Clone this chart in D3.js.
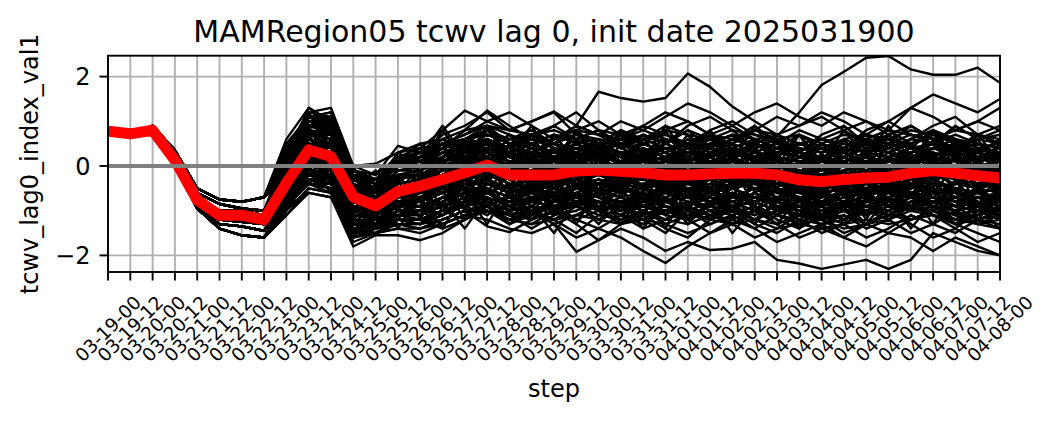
<!DOCTYPE html>
<html><head><meta charset="utf-8">
<script src="https://cdn.jsdelivr.net/npm/d3@7"></script>
<style>
html,body{margin:0;padding:0;background:#fff;}
svg{display:block;font-family:"DejaVu Sans",sans-serif;}
</style></head>
<body>
<svg id="chart" width="1057" height="421"></svg>
<script>
const title = "MAMRegion05 tcwv lag 0, init date 2025031900";
const xLabel = "step";
const yLabel = "tcwv_lag0_index_val1";
const stepLabels = ["03-19-00","03-19-12","03-20-00","03-20-12","03-21-00","03-21-12","03-22-00","03-22-12",
 "03-23-00","03-23-12","03-24-00","03-24-12","03-25-00","03-25-12","03-26-00","03-26-12","03-27-00","03-27-12",
 "03-28-00","03-28-12","03-29-00","03-29-12","03-30-00","03-30-12","03-31-00","03-31-12","04-01-00","04-01-12",
 "04-02-00","04-02-12","04-03-00","04-03-12","04-04-00","04-04-12","04-05-00","04-05-12","04-06-00","04-06-12",
 "04-07-00","04-07-12","04-08-00"];
const yTicks = [-2, 0, 2];
const yTickLabels = ["\u22122", "0", "2"];

const ensembleMean = [0.78,0.72,0.80,0.13,-0.76,-1.10,-1.10,-1.20,
 -0.38,0.36,0.21,-0.69,-0.89,-0.57,
 -0.45,-0.30,-0.15,0.02,-0.20,-0.20,-0.20,-0.11,-0.09,
 -0.12,-0.15,-0.20,-0.20,-0.18,-0.16,-0.16,-0.20,-0.31,
 -0.35,-0.30,-0.27,-0.25,-0.16,-0.10,-0.16,-0.22,-0.27];

// spread-out members
const membersWide = [
[0.78,0.72,0.82,0.2,-0.7,-1.0,-1.0,-1.1, -0.2,0.6,0.5,-0.5,-0.8,-0.4,
 -0.3,0.1,0.3,0.5,0.2,0.4,0.1,0.3,0.6, 0.2,-0.1,0.1,0.4,0.2,0.0,-0.3,-0.1,0.2, 0.5,0.3,0.0,-0.2,0.1,0.4,0.6,0.3,0.1],
[0.77,0.68,0.75,0.1,-0.85,-1.2,-1.25,-1.3, -0.6,0.1,-0.2,-1.0,-1.2,-0.9,
 -0.9,-0.8,-0.5,-0.6,-0.9,-0.7,-1.0,-0.6,-0.8, -1.1,-0.7,-0.9,-1.2,-0.8,-0.6,-0.9,-1.1,-1.3, -1.0,-0.8,-1.1,-0.9,-0.6,-0.8,-1.0,-0.7,-0.9],
[0.79,0.71,0.85,0.3,-0.6,-0.85,-0.95,-1.0, 0.2,1.0,0.9,-0.3,-0.5,0.1,
 -0.1,0.2,0.6,0.9,0.5,0.3,0.6,0.8,0.4, 0.1,0.5,0.3,-0.1,0.2,0.6,0.4,0.0,-0.2, 0.1,0.4,0.7,0.5,0.9,0.6,0.3,0.5,0.2],
[0.78,0.69,0.78,0.05,-0.9,-1.3,-1.35,-1.45, -0.9,-0.3,-0.5,-1.4,-1.3,-1.2,
 -1.3,-1.1,-0.8,-0.5,-0.9,-1.2,-0.8,-0.5,-0.3, -0.6,-0.9,-0.5,-0.2,-0.6,-0.9,-1.2,-0.8,-0.5, -0.9,-1.2,-0.8,-0.6,-0.9,-0.5,-0.8,-1.1,-0.7],
[0.78,0.7,0.9,0.35,-0.5,-0.75,-0.8,-0.7, 0.6,1.3,1.0,0.0,-0.2,0.45,
 0.3,0.7,0.9,1.2,0.8,1.0,1.2,0.7,0.5, 0.8,0.6,0.9,0.7,0.3,0.6,0.9,0.5,0.3, 0.6,0.4,0.8,1.0,0.7,0.5,0.9,0.6,0.8],
[0.77,0.66,0.72,0.0,-0.95,-1.4,-1.55,-1.6, -1.1,-0.6,-0.7,-1.8,-1.55,-1.55,
 -1.66,-1.5,-1.2,-0.9,-1.3,-1.0,-1.2,-1.5,-1.1, -0.8,-1.2,-1.5,-1.0,-1.3,-1.1,-0.9,-1.2,-1.4, -1.1,-1.3,-1.0,-1.2,-0.9,-1.1,-1.4,-1.0,-1.2],
[0.79,0.73,0.8,0.15,-0.75,-1.1,-1.05,-1.15, -0.4,0.4,0.2,-0.7,-0.9,-0.5,
 -0.5,-0.2,0.0,0.2,-0.1,-0.3,0.0,0.2,-0.1, -0.3,0.0,-0.2,0.1,-0.1,-0.4,-0.2,0.1,0.0, -0.2,-0.5,-0.3,0.0,0.2,0.0,-0.2,0.1,-0.1],
[0.78,0.7,0.76,0.12,-0.8,-1.15,-1.2,-1.25, -0.5,0.2,0.0,-0.9,-1.0,-0.7,
 -0.6,-0.4,-0.3,-0.1,-0.4,-0.5,-0.3,0.0,-0.2, -0.4,-0.2,-0.5,-0.3,-0.6,-0.4,-0.1,-0.4,-0.6, -0.5,-0.3,-0.6,-0.4,-0.2,0.0,-0.3,-0.5,-0.4],
[0.78,0.72,0.82,0.2,-0.7,-1.0,-1.0,-1.1, -0.3,0.5,0.4,-0.4,-0.7,-0.3,
 -0.2,-0.5,0.1,-0.2,0.3,0.0,-0.4,0.0,0.3, 0.5,0.2,-0.1,-0.4,0.0,0.3,0.1,-0.2,-0.5, -0.2,0.1,0.3,-0.1,-0.4,-0.2,0.2,0.0,-0.3],
[0.77,0.68,0.75,0.1,-0.85,-1.2,-1.25,-1.3, -0.6,0.0,-0.1,-1.1,-1.1,-0.8,
 -0.8,-0.6,-0.9,-0.4,-0.6,-0.9,-0.5,-0.7,-0.4, -0.2,-0.5,-0.8,-0.6,-0.3,-0.7,-0.5,-0.8,-1.0, -0.7,-0.4,-0.6,-0.9,-0.5,-0.3,-0.6,-0.9,-1.1],
[0.79,0.71,0.85,0.3,-0.6,-0.85,-0.95,-1.0, 0.0,0.8,0.7,-0.2,-0.6,0.2,
 0.1,0.5,0.3,0.6,0.2,0.7,0.4,0.1,0.3, 0.6,0.3,0.5,0.8,0.4,0.2,0.5,0.7,0.3, 0.0,0.3,0.1,0.4,0.6,0.8,0.5,0.2,0.4],
[0.78,0.69,0.78,0.05,-0.9,-1.3,-1.35,-1.45, -0.8,-0.2,-0.4,-1.3,-1.4,-1.0,
 -1.1,-0.7,-0.5,-0.8,-1.1,-0.9,-0.6,-0.4,-0.7, -1.0,-0.7,-1.1,-0.8,-1.0,-1.3,-1.0,-0.7,-0.9, -1.2,-0.9,-0.6,-0.9,-1.2,-1.0,-0.7,-0.5,-0.8],
[0.78,0.7,0.9,0.35,-0.5,-0.75,-0.8,-0.7, 0.4,1.2,1.3,0.0,0.05,0.3,
 0.0,0.4,0.8,1.24,0.9,0.6,0.9,1.2,0.8, 0.4,0.7,0.5,0.9,1.1,0.8,0.4,0.6,0.3, 0.7,0.9,0.5,0.3,0.6,0.9,1.1,0.7,0.5],
[0.77,0.66,0.72,0.0,-0.95,-1.4,-1.55,-1.6, -1.0,-0.5,-0.6,-1.6,-1.4,-1.3,
 -1.4,-1.2,-1.0,-1.35,-1.48,-1.2,-1.0,-1.3,-1.66, -1.3,-1.1,-1.4,-1.6,-1.2,-1.0,-1.3,-1.5,-1.2, -1.5,-1.3,-1.6,-1.4,-1.1,-1.3,-1.5,-1.2,-1.4],
[0.79,0.73,0.8,0.15,-0.75,-1.1,-1.05,-1.15, -0.3,0.5,0.3,-0.6,-0.8,-0.5,
 -0.4,-0.1,0.2,0.4,0.1,-0.2,0.1,0.4,0.2, -0.1,0.2,0.4,0.1,-0.2,0.0,0.3,0.1,-0.2, -0.4,-0.1,0.1,-0.2,0.0,0.3,0.1,-0.2,0.0],
[0.78,0.7,0.76,0.12,-0.8,-1.15,-1.2,-1.25, -0.4,0.3,0.1,-0.8,-1.0,-0.6,
 -0.7,-0.5,-0.2,0.1,-0.3,-0.6,-0.4,-0.1,0.1, -0.2,-0.5,-0.3,-0.6,-0.4,-0.1,-0.3,-0.6,-0.4, -0.7,-0.4,-0.2,-0.5,-0.3,-0.6,-0.4,-0.1,-0.3],
[0.78,0.72,0.82,0.2,-0.7,-1.0,-1.0,-1.1, -0.2,0.7,0.6,-0.4,-0.7,-0.2,
 -0.2,0.0,-0.3,0.2,0.0,0.3,0.1,-0.2,0.0, 0.3,0.0,-0.2,0.1,0.4,0.2,-0.1,0.1,-0.2, 0.0,0.2,-0.1,0.1,0.3,0.5,0.2,-0.1,0.0],
[0.77,0.68,0.75,0.1,-0.85,-1.2,-1.25,-1.3, -0.7,-0.1,-0.3,-1.2,-1.3,-1.0,
 -1.0,-0.8,-0.6,-0.9,-0.7,-1.0,-1.2,-0.9,-0.6, -0.9,-1.2,-0.8,-0.5,-0.8,-1.0,-0.7,-0.9,-1.2, -0.9,-0.6,-0.9,-1.1,-0.8,-0.6,-0.9,-1.2,-1.0],
[0.79,0.71,0.85,0.3,-0.6,-0.85,-0.95,-1.0, 0.1,0.9,0.8,-0.3,-0.4,0.0,
 0.0,0.3,0.5,0.2,0.6,0.8,0.5,0.2,0.5, 0.8,0.5,0.3,0.6,0.3,0.5,0.8,0.6,0.2, 0.5,0.3,0.6,0.8,0.5,0.2,0.4,0.7,0.9],
[0.78,0.69,0.78,0.05,-0.9,-1.3,-1.35,-1.45, -0.7,-0.3,-0.4,-1.3,-1.2,-1.1,
 -1.0,-1.3,-1.1,-0.8,-1.1,-1.4,-1.1,-0.8,-1.0, -1.3,-1.0,-0.7,-1.0,-1.2,-0.9,-0.6,-0.9,-1.1, -0.8,-1.0,-1.3,-1.0,-0.7,-0.9,-1.2,-0.9,-0.6],
[0.78,0.7,0.9,0.35,-0.5,-0.75,-0.8,-0.7, 0.5,1.1,1.2,-0.1,-0.3,0.2,
 0.2,0.6,0.4,0.7,0.5,0.3,0.6,0.9,0.7, 0.4,0.2,0.5,0.8,0.6,0.3,0.1,0.4,0.7, 0.4,0.2,0.5,0.3,0.1,0.4,0.6,0.3,0.6],
[0.77,0.66,0.72,0.0,-0.95,-1.4,-1.55,-1.6, -1.1,-0.5,-0.6,-1.7,-1.5,-1.4,
 -1.5,-1.3,-1.1,-1.2,-1.4,-1.5,-1.3,-1.92,-1.66, -1.4,-1.6,-1.9,-1.7,-1.88,-1.85,-1.7,-2.1,-2.18, -2.3,-2.2,-2.1,-2.3,-2.1,-1.5,-1.7,-1.9,-2.0],
[0.79,0.73,0.8,0.15,-0.75,-1.1,-1.05,-1.15, -0.4,0.3,0.1,-0.7,-0.9,-0.6,
 -0.6,-0.3,-0.5,-0.2,0.0,-0.3,-0.1,-0.4,-0.2, 0.0,-0.3,-0.1,-0.4,-0.2,0.1,-0.1,-0.4,-0.3, -0.5,-0.2,0.0,-0.3,-0.5,-0.2,0.0,-0.3,-0.5],
[0.78,0.7,0.76,0.12,-0.8,-1.15,-1.2,-1.25, -0.5,0.2,0.1,-0.8,-0.9,-0.7,
 -0.5,-0.2,0.0,-0.3,-0.6,-0.4,-0.7,-0.5,-0.3, -0.5,-0.2,0.1,-0.2,-0.5,-0.3,0.0,-0.3,-0.6, -0.3,-0.6,-0.4,-0.1,-0.4,-0.7,-0.4,-0.2,-0.5],
[0.78,0.72,0.82,0.2,-0.7,-1.0,-1.0,-1.1, -0.1,0.7,0.6,-0.4,-0.6,-0.2,
 -0.3,0.2,0.5,0.6,0.4,0.7,0.5,0.9,1.66, 1.52,1.44,1.52,2.07,1.77,1.33,1.0,0.7,0.9, 1.1,0.8,0.5,0.7,0.9,0.6,0.4,0.7,0.5],
[0.77,0.68,0.75,0.1,-0.85,-1.2,-1.25,-1.3, -0.5,0.2,0.0,-0.9,-1.0,-0.7,
 -0.7,-0.4,-0.1,0.2,-0.1,0.3,0.5,0.2,0.4, 0.7,0.5,0.8,1.0,0.7,0.9,0.6,0.66,1.2, 1.81,2.11,2.42,2.46,2.16,2.04,2.04,2.2,1.86],
[0.79,0.71,0.85,0.3,-0.6,-0.85,-0.95,-1.0, 0.2,1.3,1.0,-0.1,-0.4,0.3,
 0.4,0.8,1.24,1.0,0.8,1.0,1.22,0.9,0.7, 1.0,0.8,1.1,1.4,1.2,0.9,1.2,1.4,1.1, 0.9,1.2,1.0,0.8,1.3,1.6,1.4,1.2,1.5],
[0.78,0.69,0.78,0.05,-0.9,-1.3,-1.35,-1.45, -0.8,-0.4,-0.5,-1.4,-1.3,-1.0,
 -1.1,-0.9,-0.6,-0.9,-1.2,-1.0,-1.3,-1.6,-1.4, -1.6,-1.9,-2.17,-1.8,-1.5,-1.2,-1.4,-1.1,-0.9, -1.2,-1.5,-1.3,-1.0,-1.3,-1.6,-1.4,-1.7,-1.5],
[0.78,0.7,0.9,0.35,-0.5,-0.75,-0.8,-0.7, 0.3,1.0,0.9,-0.2,-0.3,0.1,
 0.1,0.5,0.7,1.0,1.2,0.9,0.6,0.8,1.0, 0.7,0.9,1.2,1.0,0.7,0.5,0.8,1.1,0.9, 1.2,1.0,0.7,1.0,1.3,1.1,0.8,1.0,1.3],
[0.77,0.66,0.72,0.0,-0.95,-1.4,-1.55,-1.6, -0.9,-0.6,-0.7,-1.5,-1.3,-1.2,
 -1.2,-1.0,-1.2,-0.9,-0.7,-1.0,-1.3,-1.1,-0.8, -1.1,-1.3,-1.0,-1.2,-1.5,-1.3,-1.0,-1.3,-1.6, -1.4,-1.6,-1.3,-1.5,-1.2,-1.0,-1.3,-1.5,-1.7],
[0.79,0.73,0.8,0.15,-0.75,-1.1,-1.05,-1.15, -0.6,0.2,0.0,-0.8,-1.0,-0.8,
 -0.9,-0.7,-0.5,-0.8,-1.0,-0.8,-0.5,-0.7,-1.0, -1.2,-1.0,-1.3,-1.5,-1.3,-1.1,-1.4,-1.7,-1.5, -1.3,-1.6,-1.8,-1.5,-1.6,-1.9,-1.6,-1.8,-2.0],
[0.78,0.7,0.76,0.12,-0.8,-1.15,-1.2,-1.25, -0.3,0.4,0.3,-0.6,-0.8,-0.4,
 -0.3,0.0,0.2,0.0,0.3,0.1,-0.1,0.1,0.4, 0.2,0.5,0.3,0.0,0.2,-0.1,0.1,0.4,0.2, 0.0,0.2,0.5,0.3,0.0,0.2,0.4,0.7,0.5],
[0.78,0.72,0.82,0.2,-0.7,-1.0,-1.0,-1.1, -0.2,0.5,0.4,-0.5,-0.7,-0.5,
 -0.4,-0.6,-0.3,-0.1,-0.3,-0.1,0.1,-0.2,-0.4, -0.1,0.1,-0.2,-0.4,-0.1,0.1,-0.2,-0.4,-0.1, -0.3,-0.1,-0.4,-0.6,-0.3,-0.1,-0.3,-0.5,-0.2],
[0.77,0.68,0.75,0.1,-0.85,-1.2,-1.25,-1.3, -0.6,0.1,-0.2,-1.0,-1.1,-0.9,
 -0.7,-0.9,-0.7,-0.4,-0.5,-0.3,-0.6,-0.4,-0.6, -0.4,-0.7,-0.5,-0.7,-0.5,-0.8,-0.6,-0.3,-0.6, -0.8,-0.5,-0.7,-0.4,-0.6,-0.4,-0.7,-0.5,-0.3],
[0.79,0.71,0.85,0.3,-0.6,-0.85,-0.95,-1.0, 0.1,0.9,0.9,-0.2,-0.5,0.0,
 0.2,0.4,0.1,0.4,0.7,0.5,0.2,0.5,0.3, 0.0,0.3,0.6,0.4,0.1,0.3,0.5,0.2,0.5, 0.3,0.6,0.4,0.7,0.4,0.2,0.5,0.3,0.1],
[0.78,0.69,0.78,0.05,-0.9,-1.3,-1.35,-1.45, -0.9,-0.4,-0.5,-1.5,-1.4,-1.2,
 -1.2,-1.4,-1.2,-1.0,-1.3,-1.1,-0.9,-1.2,-1.4, -1.1,-1.4,-1.2,-0.9,-1.1,-1.3,-1.6,-1.4,-1.1, -1.3,-1.1,-1.4,-1.2,-1.5,-1.3,-1.0,-1.3,-1.1],
[0.78,0.7,0.9,0.35,-0.5,-0.75,-0.8,-0.7, 0.2,0.8,0.7,-0.1,-0.4,0.1,
 -0.1,0.3,0.5,0.3,0.0,0.4,0.3,0.6,0.8, 0.5,0.3,0.0,0.3,0.6,0.4,0.2,-0.1,0.2, 0.4,0.1,0.3,0.6,0.4,0.8,0.6,0.4,0.3],
[0.77,0.66,0.72,0.0,-0.95,-1.4,-1.55,-1.6, -0.8,-0.4,-0.6,-1.4,-1.2,-1.1,
 -1.0,-1.1,-0.8,-1.0,-1.2,-1.3,-1.0,-1.2,-1.0, -0.8,-1.0,-1.2,-0.9,-0.7,-1.0,-1.2,-1.0,-0.8, -1.0,-0.8,-1.0,-0.7,-0.9,-1.1,-1.3,-1.1,-0.9],
[0.79,0.73,0.8,0.15,-0.75,-1.1,-1.05,-1.15, -0.4,0.4,0.2,-0.6,-0.9,-0.5,
 -0.5,-0.3,-0.1,0.1,-0.2,0.0,-0.2,0.0,-0.2, -0.4,-0.2,-0.4,-0.1,-0.3,-0.5,-0.3,-0.1,-0.4, -0.6,-0.3,-0.5,-0.2,0.0,-0.3,-0.1,-0.4,-0.2],
[0.78,0.7,0.76,0.12,-0.8,-1.15,-1.2,-1.25, -0.6,0.1,0.0,-0.9,-1.0,-0.8,
 -0.8,-0.6,-0.4,-0.6,-0.8,-0.6,-0.9,-0.7,-0.5, -0.7,-0.9,-0.6,-0.8,-0.9,-0.7,-0.5,-0.7,-0.9, -0.6,-0.8,-0.5,-0.7,-0.5,-0.3,-0.6,-0.8,-1.0],
[0.78,0.72,0.82,0.2,-0.7,-1.0,-1.0,-1.1, -0.1,0.8,0.6,-0.3,-0.5,0.0,
 0.0,0.2,0.5,0.8,0.5,0.7,0.9,0.6,0.3, 0.6,0.9,0.7,0.5,0.8,1.0,0.7,0.5,0.8, 0.6,0.8,1.0,0.7,0.9,0.6,0.8,1.0,0.8],
[0.77,0.68,0.75,0.1,-0.85,-1.2,-1.25,-1.3, -0.7,-0.2,-0.3,-1.1,-1.2,-1.0,
 -1.0,-0.7,-0.9,-1.1,-0.8,-0.5,-0.7,-0.9,-1.2, -0.9,-0.6,-0.9,-1.1,-0.9,-0.6,-0.8,-0.5,-0.7, -0.9,-1.2,-0.9,-0.7,-1.0,-0.8,-0.5,-0.8,-1.1],
[0.79,0.71,0.85,0.3,-0.6,-0.85,-0.95,-1.0, 0.0,0.7,0.5,-0.3,-0.6,-0.1,
 -0.1,0.1,0.3,0.0,-0.2,0.2,0.0,0.3,0.1, -0.1,0.2,0.0,-0.3,0.0,0.2,-0.1,-0.3,0.0, -0.2,0.0,0.2,0.0,-0.2,0.1,-0.1,0.2,0.0],
[0.78,0.69,0.78,0.05,-0.9,-1.3,-1.35,-1.45, -0.7,-0.2,-0.3,-1.2,-1.2,-0.9,
 -0.9,-1.1,-0.8,-0.6,-0.9,-0.7,-0.5,-0.8,-0.6, -0.9,-0.7,-0.4,-0.7,-1.0,-0.8,-1.0,-0.7,-0.5, -0.8,-0.6,-0.9,-1.1,-0.8,-0.5,-0.7,-1.0,-0.8]
];

// members close to the ensemble core
const membersCore = [
[0.78,0.72,0.82,0.2,-0.7,-1.0,-1.0,-1.1, -0.3,0.7,0.8,-0.3,-0.5,-0.2,
 -0.1,0.1,0.4,0.3,0.1,0.2,-0.1,0.2,0.4, 0.3,0.1,-0.2,0.1,0.3,0.1,0.2,0.4,0.1, -0.1,0.2,0.0,0.3,0.5,0.2,0.0,0.3,0.1],
[0.77,0.68,0.75,0.1,-0.85,-1.2,-1.25,-1.3, -0.5,0.3,0.1,-0.9,-1.1,-0.8,
 -0.8,-0.5,-0.3,-0.5,-0.7,-0.5,-0.6,-0.4,-0.6, -0.5,-0.7,-0.4,-0.6,-0.8,-0.5,-0.7,-0.5,-0.8, -0.6,-0.8,-0.5,-0.6,-0.4,-0.6,-0.8,-0.6,-0.7],
[0.79,0.71,0.85,0.3,-0.6,-0.85,-0.95,-1.0, -0.1,1.1,1.1,-0.2,-0.3,0.1,
 0.5,0.6,0.4,0.6,0.3,0.5,0.7,0.5,0.6, 0.5,0.7,0.5,0.3,0.5,0.7,0.4,0.6,0.4, 0.3,0.5,0.3,0.5,0.7,0.6,0.4,0.6,0.5],
[0.78,0.69,0.78,0.05,-0.9,-1.3,-1.35,-1.45, -0.6,0.0,0.0,-1.2,-1.3,-1.0,
 -1.1,-0.9,-0.7,-0.5,-0.7,-0.8,-0.6,-0.5,-0.7, -0.8,-0.6,-0.8,-0.9,-0.7,-0.8,-0.6,-0.8,-1.0, -1.1,-0.9,-0.8,-0.7,-0.6,-0.8,-0.7,-0.9,-1.0],
[0.78,0.7,0.9,0.35,-0.5,-0.75,-0.8,-0.7, -0.1,0.9,1.0,-0.2,-0.4,0.0,
 0.2,0.3,0.5,0.6,0.4,0.3,0.2,0.4,0.5, 0.3,0.2,0.4,0.2,0.0,0.2,0.3,0.1,0.0, 0.1,0.2,0.0,0.2,0.3,0.4,0.2,0.1,0.3],
[0.77,0.66,0.72,0.0,-0.95,-1.4,-1.55,-1.6, -0.7,-0.1,-0.1,-1.4,-1.5,-1.2,
 -1.3,-1.0,-0.8,-0.7,-0.9,-1.1,-0.9,-0.8,-1.0, -0.9,-1.1,-0.9,-1.0,-0.8,-0.9,-1.1,-0.9,-1.0, -1.2,-1.0,-1.1,-0.9,-0.8,-0.9,-1.0,-1.2,-1.1],
[0.79,0.73,0.8,0.15,-0.75,-1.1,-1.05,-1.15, -0.4,0.5,0.5,-0.6,-0.8,-0.5,
 -0.4,-0.2,0.1,0.2,0.0,-0.1,0.1,0.2,0.1, 0.0,-0.1,0.1,0.0,-0.2,0.1,0.0,-0.1,-0.2, -0.3,-0.1,0.0,0.1,0.2,0.1,0.0,-0.1,0.1],
[0.78,0.7,0.76,0.12,-0.8,-1.15,-1.2,-1.25, -0.5,0.2,0.3,-0.8,-1.0,-0.7,
 -0.6,-0.5,-0.3,-0.2,-0.4,-0.3,-0.5,-0.3,-0.2, -0.3,-0.4,-0.2,-0.4,-0.3,-0.2,-0.4,-0.3,-0.5, -0.6,-0.5,-0.4,-0.5,-0.3,-0.2,-0.3,-0.4,-0.5],
[0.78,0.72,0.82,0.2,-0.7,-1.0,-1.0,-1.1, -0.2,0.8,0.6,-0.5,-0.6,-0.3,
 -0.2,0.0,0.1,0.4,0.2,0.0,0.2,0.1,0.3, 0.1,0.2,0.0,0.2,0.1,0.3,0.1,0.2,0.0, 0.0,0.1,0.2,0.0,0.1,0.3,0.2,0.0,-0.1],
[0.77,0.68,0.75,0.1,-0.85,-1.2,-1.25,-1.3, -0.6,0.1,0.0,-1.0,-1.2,-0.9,
 -0.7,-0.6,-0.5,-0.3,-0.6,-0.4,-0.3,-0.5,-0.4, -0.6,-0.5,-0.6,-0.4,-0.6,-0.5,-0.4,-0.6,-0.7, -0.7,-0.6,-0.5,-0.6,-0.5,-0.4,-0.5,-0.6,-0.7],
[0.79,0.71,0.85,0.3,-0.6,-0.85,-0.95,-1.0, 0.0,1.0,0.9,-0.2,-0.4,0.1,
 0.3,0.4,0.6,0.8,0.5,0.4,0.3,0.5,0.6, 0.4,0.6,0.4,0.5,0.3,0.4,0.6,0.4,0.3, 0.2,0.3,0.5,0.4,0.6,0.5,0.3,0.4,0.2],
[0.78,0.69,0.78,0.05,-0.9,-1.3,-1.35,-1.45, -0.7,-0.1,-0.2,-1.3,-1.4,-1.1,
 -1.2,-1.0,-0.9,-0.6,-0.8,-1.0,-0.8,-0.7,-0.9, -0.7,-0.9,-1.0,-0.8,-0.9,-0.7,-0.8,-1.0,-0.9, -1.0,-0.8,-0.9,-1.0,-0.8,-0.7,-0.9,-0.8,-0.9],
[0.78,0.7,0.9,0.35,-0.5,-0.75,-0.8,-0.7, 0.1,1.2,1.1,-0.1,-0.2,0.2,
 0.4,0.5,0.7,0.9,0.7,0.5,0.6,0.8,0.7, 0.6,0.8,0.6,0.5,0.7,0.6,0.8,0.7,0.5, 0.4,0.6,0.7,0.6,0.8,0.7,0.5,0.6,0.7],
[0.77,0.66,0.72,0.0,-0.95,-1.4,-1.55,-1.6, -0.8,-0.2,-0.3,-1.5,-1.5,-1.3,
 -1.4,-1.2,-1.0,-1.0,-1.1,-1.0,-1.2,-1.1,-0.9, -1.0,-0.9,-1.1,-1.2,-1.0,-1.1,-0.9,-1.1,-1.2, -1.3,-1.2,-1.0,-1.1,-0.9,-1.0,-1.2,-1.1,-1.0],
[0.79,0.73,0.8,0.15,-0.75,-1.1,-1.05,-1.15, -0.3,0.6,0.4,-0.5,-0.7,-0.4,
 -0.3,-0.1,0.0,0.3,0.1,0.0,-0.1,0.1,0.2, 0.1,-0.1,0.0,0.2,0.0,-0.1,0.1,0.0,-0.1, -0.2,0.0,-0.1,0.1,0.0,0.2,0.1,-0.1,-0.2],
[0.78,0.7,0.76,0.12,-0.8,-1.15,-1.2,-1.25, -0.4,0.4,0.2,-0.7,-0.9,-0.6,
 -0.5,-0.3,-0.2,0.0,-0.2,-0.3,-0.2,-0.1,0.0, -0.2,-0.1,-0.3,-0.2,-0.1,-0.3,-0.2,-0.4,-0.3, -0.4,-0.3,-0.2,-0.1,-0.2,0.0,-0.1,-0.3,-0.2],
[0.78,0.72,0.82,0.2,-0.7,-1.0,-1.0,-1.1, -0.3,0.6,0.5,-0.6,-0.8,-0.5,
 -0.5,-0.3,-0.1,0.1,-0.1,-0.2,0.0,-0.2,-0.1, -0.2,0.0,-0.1,-0.3,-0.2,-0.1,0.0,-0.2,-0.3, -0.4,-0.2,-0.1,-0.3,-0.1,0.0,-0.2,-0.3,-0.4],
[0.77,0.68,0.75,0.1,-0.85,-1.2,-1.25,-1.3, -0.6,0.0,-0.1,-1.1,-1.2,-0.9,
 -0.9,-0.7,-0.6,-0.4,-0.5,-0.7,-0.6,-0.4,-0.5, -0.6,-0.4,-0.5,-0.7,-0.6,-0.4,-0.5,-0.7,-0.8, -0.8,-0.7,-0.6,-0.5,-0.4,-0.5,-0.7,-0.6,-0.8],
[0.79,0.71,0.85,0.3,-0.6,-0.85,-0.95,-1.0, 0.0,0.9,0.8,-0.3,-0.5,0.0,
 0.1,0.3,0.2,0.5,0.3,0.1,0.2,0.4,0.3, 0.2,0.4,0.2,0.1,0.3,0.2,0.0,0.2,0.1, 0.0,0.1,0.3,0.2,0.4,0.3,0.1,0.2,0.0],
[0.78,0.69,0.78,0.05,-0.9,-1.3,-1.35,-1.45, -0.7,-0.2,-0.1,-1.2,-1.3,-1.0,
 -1.0,-0.8,-0.6,-0.7,-0.9,-0.8,-0.7,-0.6,-0.8, -0.9,-0.8,-0.6,-0.7,-0.8,-0.6,-0.7,-0.9,-0.8, -0.9,-0.7,-0.8,-0.6,-0.7,-0.8,-0.9,-0.7,-0.8],
[0.78,0.7,0.9,0.35,-0.5,-0.75,-0.8,-0.7, 0.0,1.1,1.2,-0.2,-0.3,0.1,
 0.1,0.4,0.6,0.7,0.6,0.5,0.7,0.6,0.4, 0.5,0.6,0.7,0.5,0.4,0.6,0.5,0.3,0.5, 0.6,0.5,0.4,0.6,0.5,0.7,0.6,0.5,0.4],
[0.77,0.66,0.72,0.0,-0.95,-1.4,-1.55,-1.6, -0.8,-0.3,-0.2,-1.4,-1.5,-1.2,
 -1.3,-1.1,-0.9,-0.8,-1.0,-0.9,-1.1,-1.0,-0.8, -1.1,-1.2,-1.0,-0.9,-1.1,-1.0,-1.2,-1.3,-1.1, -1.2,-1.1,-1.3,-1.2,-1.0,-1.1,-1.3,-1.2,-1.3],
[0.79,0.73,0.8,0.15,-0.75,-1.1,-1.05,-1.15, -0.5,0.3,0.3,-0.7,-0.9,-0.5,
 -0.4,-0.3,-0.1,-0.1,-0.3,-0.2,0.0,-0.1,0.0, -0.1,-0.2,-0.1,0.0,-0.2,-0.3,-0.1,-0.2,-0.3, -0.3,-0.2,-0.4,-0.2,-0.1,0.0,-0.1,-0.2,-0.3],
[0.78,0.7,0.76,0.12,-0.8,-1.15,-1.2,-1.25, -0.4,0.3,0.2,-0.7,-0.8,-0.6,
 -0.6,-0.4,-0.3,-0.2,-0.1,-0.3,-0.4,-0.2,-0.1, -0.3,-0.2,-0.3,-0.4,-0.3,-0.2,-0.3,-0.4,-0.5, -0.5,-0.4,-0.3,-0.4,-0.2,-0.1,-0.3,-0.4,-0.3],
[0.78,0.72,0.82,0.2,-0.7,-1.0,-1.0,-1.1, -0.2,0.9,0.7,-0.4,-0.6,-0.1,
 0.0,0.2,0.3,0.6,0.4,0.2,0.3,0.5,0.2, 0.3,0.1,0.2,0.4,0.2,0.3,0.1,0.3,0.2, 0.1,0.0,0.2,0.1,0.3,0.4,0.3,0.2,0.1],
[0.77,0.68,0.75,0.1,-0.85,-1.2,-1.25,-1.3, -0.5,0.2,0.1,-0.9,-1.0,-0.8,
 -0.7,-0.5,-0.4,-0.3,-0.5,-0.6,-0.4,-0.3,-0.5, -0.4,-0.5,-0.3,-0.5,-0.4,-0.3,-0.5,-0.4,-0.6, -0.5,-0.4,-0.6,-0.5,-0.3,-0.4,-0.5,-0.6,-0.5],
[0.79,0.71,0.85,0.3,-0.6,-0.85,-0.95,-1.0, 0.1,1.0,1.0,-0.2,-0.4,0.0,
 0.2,0.5,0.4,0.7,0.5,0.6,0.4,0.3,0.5, 0.3,0.4,0.2,0.4,0.5,0.3,0.4,0.5,0.3, 0.2,0.4,0.3,0.4,0.3,0.5,0.4,0.3,0.4],
[0.78,0.69,0.78,0.05,-0.9,-1.3,-1.35,-1.45, -0.8,-0.3,-0.3,-1.3,-1.4,-1.2,
 -1.2,-1.0,-0.8,-0.9,-1.1,-1.0,-0.9,-0.8,-1.0, -1.1,-0.9,-1.0,-1.1,-0.9,-1.0,-1.1,-0.9,-1.0, -1.1,-1.0,-1.1,-0.9,-1.0,-0.9,-1.1,-1.0,-1.1],
[0.78,0.7,0.9,0.35,-0.5,-0.75,-0.8,-0.7, 0.2,1.1,1.0,-0.1,-0.3,0.2,
 0.3,0.6,0.8,0.9,0.8,0.7,0.8,0.6,0.8, 0.7,0.6,0.8,0.7,0.6,0.8,0.7,0.6,0.7, 0.5,0.7,0.6,0.8,0.7,0.6,0.8,0.7,0.6],
[0.77,0.66,0.72,0.0,-0.95,-1.4,-1.55,-1.6, -0.9,-0.4,-0.4,-1.6,-1.5,-1.4,
 -1.4,-1.3,-1.1,-1.0,-1.2,-1.3,-1.2,-1.1,-1.2, -1.3,-1.2,-1.3,-1.1,-1.2,-1.3,-1.2,-1.4,-1.3, -1.4,-1.3,-1.2,-1.3,-1.2,-1.1,-1.2,-1.3,-1.4],
[0.79,0.73,0.8,0.15,-0.75,-1.1,-1.05,-1.15, -0.3,0.5,0.4,-0.6,-0.7,-0.3,
 -0.2,0.0,0.2,0.3,0.1,0.2,0.0,0.1,0.0, -0.1,0.1,0.0,-0.1,0.1,0.0,-0.1,0.0,-0.1, -0.2,-0.1,0.1,0.0,-0.1,0.1,0.0,-0.1,0.0],
[0.78,0.7,0.76,0.12,-0.8,-1.15,-1.2,-1.25, -0.5,0.1,0.0,-0.8,-1.0,-0.7,
 -0.7,-0.5,-0.4,-0.3,-0.5,-0.4,-0.5,-0.3,-0.4, -0.4,-0.3,-0.5,-0.4,-0.5,-0.3,-0.4,-0.5,-0.6, -0.6,-0.5,-0.4,-0.3,-0.4,-0.2,-0.4,-0.5,-0.6],
[0.78,0.72,0.82,0.2,-0.7,-1.0,-1.0,-1.1, -0.1,0.8,0.7,-0.3,-0.6,-0.2,
 -0.1,0.1,0.2,0.4,0.3,0.5,0.3,0.2,0.4, 0.2,0.3,0.1,0.3,0.2,0.4,0.2,0.1,0.3, 0.2,0.1,0.3,0.2,0.0,0.2,0.1,0.3,0.2],
[0.77,0.68,0.75,0.1,-0.85,-1.2,-1.25,-1.3, -0.6,0.0,-0.1,-1.0,-1.1,-0.9,
 -0.8,-0.6,-0.5,-0.6,-0.4,-0.5,-0.7,-0.6,-0.4, -0.5,-0.6,-0.7,-0.5,-0.6,-0.7,-0.5,-0.6,-0.7, -0.7,-0.6,-0.7,-0.5,-0.6,-0.5,-0.6,-0.7,-0.6],
[0.79,0.71,0.85,0.3,-0.6,-0.85,-0.95,-1.0, 0.0,1.0,0.8,-0.2,-0.4,0.1,
 0.1,0.4,0.5,0.4,0.2,0.3,0.5,0.4,0.3, 0.1,0.3,0.4,0.2,0.4,0.3,0.2,0.4,0.3, 0.1,0.2,0.4,0.3,0.2,0.4,0.3,0.1,0.2],
[0.78,0.69,0.78,0.05,-0.9,-1.3,-1.35,-1.45, -0.6,-0.1,-0.2,-1.2,-1.3,-1.1,
 -1.0,-0.9,-0.7,-0.6,-0.8,-0.7,-0.8,-0.6,-0.7, -0.8,-0.7,-0.8,-0.6,-0.7,-0.9,-0.8,-0.7,-0.9, -1.0,-0.9,-0.8,-0.9,-0.7,-0.6,-0.8,-0.9,-0.8],
[0.78,0.7,0.9,0.35,-0.5,-0.75,-0.8,-0.7, 0.1,1.0,1.1,-0.1,-0.3,0.1,
 0.2,0.5,0.6,0.8,0.6,0.7,0.5,0.7,0.6, 0.4,0.5,0.6,0.4,0.5,0.7,0.6,0.4,0.5, 0.4,0.3,0.5,0.6,0.5,0.7,0.6,0.4,0.5],
[0.77,0.66,0.72,0.0,-0.95,-1.4,-1.55,-1.6, -0.9,-0.3,-0.3,-1.5,-1.4,-1.3,
 -1.3,-1.2,-1.0,-0.9,-1.1,-1.2,-1.0,-0.9,-1.1, -1.2,-1.0,-1.2,-1.3,-1.1,-1.2,-1.0,-1.1,-1.3, -1.2,-1.4,-1.3,-1.1,-1.2,-1.0,-1.1,-1.3,-1.2],
[0.79,0.73,0.8,0.15,-0.75,-1.1,-1.05,-1.15, -0.4,0.4,0.3,-0.7,-0.8,-0.5,
 -0.4,-0.2,0.0,0.1,-0.1,0.0,-0.2,0.0,-0.1, -0.2,-0.1,-0.2,0.0,-0.1,-0.2,-0.1,-0.2,-0.3, -0.4,-0.3,-0.2,-0.3,-0.1,0.0,-0.2,-0.3,-0.2],
[0.78,0.7,0.76,0.12,-0.8,-1.15,-1.2,-1.25, -0.5,0.2,0.1,-0.9,-0.9,-0.7,
 -0.6,-0.5,-0.3,-0.4,-0.6,-0.5,-0.3,-0.4,-0.3, -0.4,-0.5,-0.4,-0.3,-0.5,-0.4,-0.3,-0.5,-0.6, -0.7,-0.6,-0.5,-0.4,-0.5,-0.3,-0.5,-0.6,-0.7],
[0.78,0.72,0.82,0.2,-0.7,-1.0,-1.0,-1.1, -0.2,0.7,0.7,-0.4,-0.7,-0.3,
 -0.2,0.1,0.2,0.3,0.0,0.1,0.2,0.3,0.2, 0.1,0.0,0.1,0.2,0.0,0.1,0.2,0.0,-0.1, -0.1,0.0,0.1,0.0,0.2,0.3,0.1,0.0,0.1],
[0.77,0.68,0.75,0.1,-0.85,-1.2,-1.25,-1.3, -0.7,-0.1,-0.2,-1.1,-1.2,-1.0,
 -1.0,-0.8,-0.6,-0.5,-0.7,-0.6,-0.8,-0.7,-0.6, -0.7,-0.6,-0.8,-0.7,-0.6,-0.5,-0.7,-0.8,-0.9, -0.9,-0.8,-0.7,-0.8,-0.6,-0.7,-0.8,-0.7,-0.9],
[0.79,0.71,0.85,0.3,-0.6,-0.85,-0.95,-1.0, 0.1,1.1,0.9,-0.3,-0.5,0.0,
 0.3,0.5,0.6,0.5,0.4,0.6,0.5,0.7,0.5, 0.6,0.5,0.3,0.5,0.6,0.5,0.3,0.5,0.4, 0.3,0.4,0.6,0.5,0.4,0.5,0.7,0.5,0.4],
[0.78,0.69,0.78,0.05,-0.9,-1.3,-1.35,-1.45, -0.7,-0.2,-0.3,-1.3,-1.3,-1.1,
 -1.1,-0.9,-0.8,-0.8,-1.0,-0.9,-1.0,-0.8,-0.9, -1.0,-0.8,-0.9,-1.0,-1.1,-0.9,-0.8,-1.0,-1.1, -1.2,-1.0,-0.9,-1.0,-0.8,-0.9,-1.0,-0.9,-1.0],
[0.78,0.7,0.9,0.35,-0.5,-0.75,-0.8,-0.7, 0.0,0.9,0.9,-0.2,-0.4,0.0,
 0.1,0.3,0.4,0.5,0.3,0.2,0.4,0.3,0.2, 0.3,0.2,0.3,0.1,0.2,0.4,0.3,0.2,0.1, 0.2,0.1,0.3,0.2,0.3,0.5,0.4,0.2,0.3],
[0.77,0.66,0.72,0.0,-0.95,-1.4,-1.55,-1.6, -0.7,-0.2,-0.2,-1.3,-1.4,-1.1,
 -1.2,-1.0,-0.8,-0.7,-0.9,-0.8,-0.9,-0.7,-0.8, -0.8,-0.9,-0.8,-1.0,-0.8,-0.9,-0.8,-1.0,-1.1, -1.0,-0.9,-1.0,-0.8,-0.9,-0.8,-0.9,-1.0,-1.1],
[0.79,0.73,0.8,0.15,-0.75,-1.1,-1.05,-1.15, -0.3,0.6,0.5,-0.5,-0.7,-0.4,
 -0.3,-0.1,0.1,0.2,0.0,0.1,0.0,0.2,0.1, 0.0,0.1,0.0,-0.1,0.0,0.1,0.0,-0.1,-0.2, -0.2,-0.1,0.0,-0.1,0.1,0.2,0.0,-0.1,-0.1],
[0.78,0.7,0.76,0.12,-0.8,-1.15,-1.2,-1.25, -0.4,0.3,0.2,-0.8,-0.9,-0.6,
 -0.5,-0.4,-0.2,-0.1,-0.3,-0.2,-0.3,-0.2,-0.1, -0.2,-0.3,-0.2,-0.3,-0.2,-0.1,-0.3,-0.2,-0.4, -0.5,-0.4,-0.3,-0.2,-0.3,-0.1,-0.2,-0.3,-0.4]
];

// members that wander back and forth through the core
const membersZigzag = [
[0.78,0.72,0.82,0.2,-0.7,-1.0,-1.0,-1.1, -0.4,0.6,0.3,-0.8,-0.6,-0.9,
 -0.2,-0.6,0.2,-0.3,0.3,-0.5,0.2,-0.4,0.3, -0.5,0.2,-0.6,0.1,-0.5,0.3,-0.4,0.2,-0.6, 0.0,-0.7,0.1,-0.6,0.2,-0.5,0.3,-0.6,0.0],
[0.77,0.68,0.75,0.1,-0.85,-1.2,-1.25,-1.3, -0.2,0.2,0.8,-1.1,-0.5,-1.0,
 -0.9,0.0,-0.8,0.1,-0.7,0.2,-0.8,0.1,-0.7, 0.1,-0.8,0.0,-0.9,0.0,-0.7,0.1,-0.8,-0.1, -0.9,-0.1,-0.8,0.0,-0.7,0.2,-0.6,0.0,-0.8],
[0.79,0.71,0.85,0.3,-0.6,-0.85,-0.95,-1.0, 0.1,0.3,1.0,-0.4,-1.1,0.0,
 0.4,-0.3,0.6,-0.2,0.5,-0.4,0.4,-0.3,0.5, -0.4,0.4,-0.5,0.5,-0.3,0.4,-0.6,0.3,-0.5, 0.3,-0.6,0.4,-0.5,0.5,-0.3,0.4,-0.6,0.2],
[0.78,0.69,0.78,0.05,-0.9,-1.3,-1.35,-1.45, -0.8,0.5,-0.3,-0.6,-1.4,-0.3,
 -1.2,-0.3,-1.0,-0.2,-1.1,-0.3,-1.0,-0.1,-1.0, -0.2,-1.1,-0.3,-1.0,-0.2,-1.2,-0.3,-1.0,-0.4, -1.2,-0.4,-1.1,-0.3,-1.0,-0.2,-1.1,-0.4,-1.2],
[0.78,0.7,0.9,0.35,-0.5,-0.75,-0.8,-0.7, 0.3,0.6,1.1,-0.5,-0.1,-0.6,
 0.0,0.8,0.1,0.9,0.0,0.7,-0.1,0.8,0.0, 0.7,-0.1,0.8,0.0,0.7,-0.2,0.6,0.0,0.7, -0.1,0.6,0.0,0.7,-0.1,0.8,0.1,0.6,-0.1],
[0.77,0.66,0.72,0.0,-0.95,-1.4,-1.55,-1.6, -1.0,0.0,-0.6,-1.3,-0.8,-1.4,
 -0.7,-1.4,-0.6,-1.3,-0.5,-1.2,-0.6,-1.3,-0.5, -1.3,-0.6,-1.4,-0.5,-1.2,-0.6,-1.3,-0.7,-1.4, -0.6,-1.3,-0.5,-1.2,-0.6,-1.3,-0.5,-1.2,-0.6],
[0.79,0.73,0.8,0.15,-0.75,-1.1,-1.05,-1.15, -0.2,0.9,0.0,-0.4,-1.2,-0.2,
 -0.8,0.2,-0.6,0.4,-0.5,0.3,-0.7,0.3,-0.6, 0.3,-0.6,0.2,-0.7,0.3,-0.5,0.2,-0.8,0.1, -0.7,0.1,-0.6,0.2,-0.5,0.3,-0.6,0.1,-0.7],
[0.78,0.7,0.76,0.12,-0.8,-1.15,-1.2,-1.25, -0.6,0.0,0.6,-1.0,-0.4,-1.0,
 -0.3,-0.9,0.0,-0.6,0.1,-0.8,0.0,-0.7,0.2, -0.7,0.0,-0.8,0.1,-0.7,0.0,-0.9,0.0,-0.8, 0.0,-0.9,-0.1,-0.8,0.1,-0.6,0.0,-0.9,-0.1],
[0.78,0.72,0.82,0.2,-0.7,-1.0,-1.0,-1.1, 0.0,0.4,0.9,-0.2,-0.9,0.2,
 0.1,0.5,-0.3,0.6,-0.2,0.5,-0.3,0.6,-0.2, 0.5,-0.3,0.6,-0.2,0.5,-0.4,0.4,-0.3,0.4, -0.4,0.4,-0.3,0.5,-0.2,0.6,-0.3,0.4,-0.3],
[0.77,0.68,0.75,0.1,-0.85,-1.2,-1.25,-1.3, -0.7,0.4,-0.4,-1.2,-0.7,-1.2,
 -0.5,-1.0,-0.3,-0.9,-0.4,-1.1,-0.3,-0.9,-0.4, -1.0,-0.4,-1.1,-0.3,-0.9,-0.4,-1.0,-0.5,-1.1, -0.4,-1.0,-0.3,-0.9,-0.4,-1.0,-0.3,-0.9,-0.5],
[0.79,0.71,0.85,0.3,-0.6,-0.85,-0.95,-1.0, 0.3,1.2,0.4,-0.5,-0.3,-0.4,
 0.2,0.9,0.2,0.8,0.3,0.9,0.1,0.8,0.2, 0.8,0.1,0.9,0.2,0.8,0.1,0.9,0.2,0.7, 0.1,0.8,0.2,0.9,0.1,0.8,0.2,0.7,0.1],
[0.78,0.69,0.78,0.05,-0.9,-1.3,-1.35,-1.45, -0.5,-0.2,0.3,-1.5,-0.9,-1.3,
 -1.3,-0.8,-1.4,-0.7,-1.3,-0.9,-1.5,-0.8,-1.3, -0.8,-1.4,-0.7,-1.3,-0.8,-1.5,-0.9,-1.3,-0.7, -1.4,-0.8,-1.3,-0.7,-1.4,-0.8,-1.3,-0.9,-1.4],
[0.78,0.7,0.9,0.35,-0.5,-0.75,-0.8,-0.7, -0.3,0.8,0.2,0.0,-1.0,0.3,
 0.5,0.0,0.6,-0.1,0.5,0.0,0.7,0.1,0.6, 0.0,0.6,0.1,0.7,0.0,0.5,-0.1,0.6,0.0, 0.5,0.0,0.6,-0.1,0.5,0.0,0.6,0.0,0.5],
[0.77,0.66,0.72,0.0,-0.95,-1.4,-1.55,-1.6, -0.9,-0.4,0.1,-1.6,-1.0,-1.1,
 -1.0,-0.4,-1.2,-0.5,-1.0,-0.3,-1.1,-0.4,-1.0, -0.5,-1.1,-0.4,-1.2,-0.5,-1.0,-0.3,-1.1,-0.5, -1.1,-0.5,-1.2,-0.4,-1.0,-0.5,-1.1,-0.4,-1.0],
[0.79,0.73,0.8,0.15,-0.75,-1.1,-1.05,-1.15, -0.5,0.7,-0.1,-0.9,-1.3,-0.7,
 -0.1,-0.5,0.4,-0.4,0.3,-0.6,0.2,-0.5,0.4, -0.4,0.3,-0.5,0.2,-0.6,0.3,-0.4,0.2,-0.6, 0.2,-0.5,0.3,-0.6,0.3,-0.4,0.2,-0.5,0.3],
[0.78,0.7,0.76,0.12,-0.8,-1.15,-1.2,-1.25, -0.1,0.1,0.5,-0.7,-0.5,-0.8,
 -0.6,0.1,-0.5,0.2,-0.7,0.1,-0.5,0.3,-0.6, 0.1,-0.5,0.2,-0.6,0.1,-0.7,0.2,-0.5,0.1, -0.6,0.1,-0.7,0.2,-0.5,0.1,-0.6,0.2,-0.5]
];

const members = membersWide.concat(membersCore, membersZigzag);

const margin = {left: 108, right: 1000, top: 55.7, bottom: 272};
const svg = d3.select("#chart");

const x = d3.scaleLinear().domain([0, stepLabels.length - 1]).range([margin.left, margin.right]);
const y = d3.scaleLinear().domain([-2.371, 2.467]).range([margin.bottom, margin.top]);

svg.append("defs").append("clipPath").attr("id", "clip")
  .append("rect").attr("x", margin.left).attr("y", margin.top)
  .attr("width", margin.right - margin.left).attr("height", margin.bottom - margin.top);

// grid
const grid = svg.append("g");
grid.selectAll("line.vx").data(d3.range(stepLabels.length)).join("line")
  .attr("x1", d => x(d)).attr("x2", d => x(d)).attr("y1", margin.top).attr("y2", margin.bottom)
  .attr("stroke", "#b0b0b0").attr("stroke-width", 1.9);
grid.selectAll("line.hy").data(yTicks).join("line")
  .attr("x1", margin.left).attr("x2", margin.right).attr("y1", d => y(d)).attr("y2", d => y(d))
  .attr("stroke", "#b0b0b0").attr("stroke-width", 1.9);

const line = d3.line().x((d, i) => x(i)).y(d => y(d));
const plot = svg.append("g").attr("clip-path", "url(#clip)");
plot.selectAll("path.member").data(members).join("path")
  .attr("d", line).attr("fill", "none").attr("stroke", "#000").attr("stroke-width", 2.4)
  .attr("stroke-linejoin", "round");
plot.append("path").datum(ensembleMean).attr("d", line).attr("fill", "none")
  .attr("stroke", "#ff0000").attr("stroke-width", 11).attr("stroke-linejoin", "round");
plot.append("line").attr("x1", margin.left).attr("x2", margin.right)
  .attr("y1", y(0)).attr("y2", y(0)).attr("stroke", "#808080").attr("stroke-width", 4.2);

// spines
svg.append("rect").attr("x", margin.left).attr("y", margin.top)
  .attr("width", margin.right - margin.left).attr("height", margin.bottom - margin.top)
  .attr("fill", "none").attr("stroke", "#000").attr("stroke-width", 1.9);

// y axis ticks
const yAxisG = svg.append("g");
yAxisG.selectAll("line").data(yTicks).join("line")
  .attr("x1", margin.left).attr("x2", margin.left - 8.5).attr("y1", d => y(d)).attr("y2", d => y(d))
  .attr("stroke", "#000").attr("stroke-width", 1.9);
yAxisG.selectAll("text").data(yTicks).join("text")
  .attr("x", margin.left - 17.5).attr("y", d => y(d)).attr("dy", "0.36em")
  .attr("text-anchor", "end").attr("font-size", 24).text((d, i) => yTickLabels[i]);

// x ticks
const xAxisG = svg.append("g");
xAxisG.selectAll("line").data(d3.range(stepLabels.length)).join("line")
  .attr("x1", d => x(d)).attr("x2", d => x(d)).attr("y1", margin.bottom).attr("y2", margin.bottom + 8.5)
  .attr("stroke", "#000").attr("stroke-width", 1.9);
const fsx = 18.5;
const labelTop = margin.bottom + 19.5;
xAxisG.selectAll("text").data(stepLabels).join("text")
  .attr("font-size", fsx).attr("text-anchor", "middle").attr("dominant-baseline", "central")
  .text(d => d)
  .each(function(d, i) {
    const w = this.getComputedTextLength();
    const h = fsx * 1.16;
    const side = (w + h) / Math.SQRT2;
    d3.select(this).attr("transform", `translate(${x(i)},${labelTop + side / 2}) rotate(-45)`);
  });

// labels
svg.append("text").attr("x", (margin.left + margin.right) / 2).attr("y", 41.5)
  .attr("text-anchor", "middle").attr("font-size", 30).text(title);
svg.append("text").attr("x", (margin.left + margin.right) / 2).attr("y", 397)
  .attr("text-anchor", "middle").attr("font-size", 24).text(xLabel);
svg.append("text").attr("transform", `translate(37.5,${(margin.top + margin.bottom) / 2}) rotate(-90)`)
  .attr("text-anchor", "middle").attr("font-size", 24).text(yLabel);
</script>
</body></html>
